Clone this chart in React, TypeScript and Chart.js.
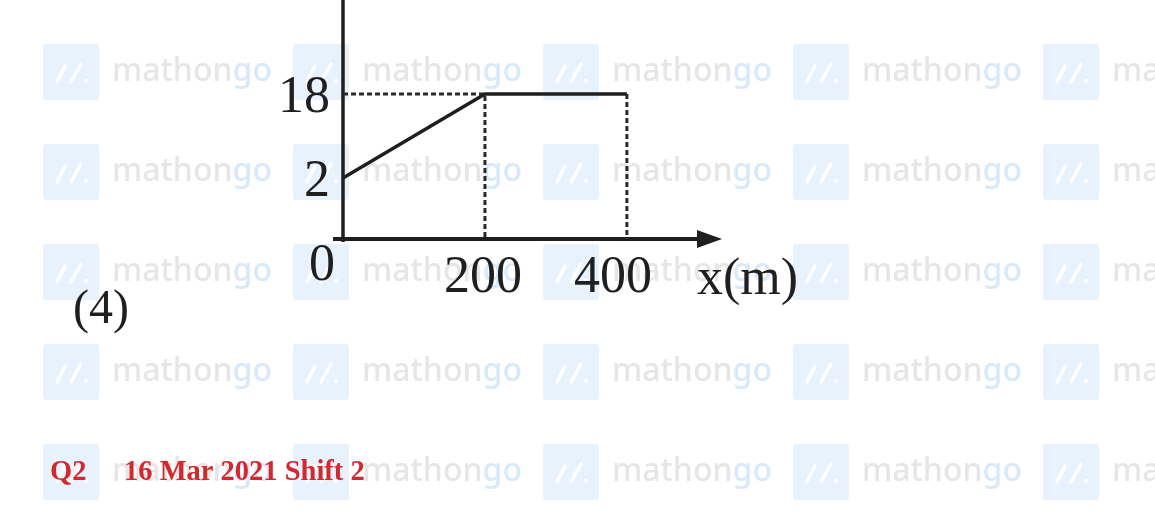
import React, { useEffect, useRef } from "react";
import { Chart, registerables } from "chart.js";

Chart.register(...registerables);

// ---- data ----
const xValues = [0, 200, 400];
const velocity = [2, 18, 18];
const xTickValues = [200, 400];
const xTickLabels = ["200", "400"];
const yTickValues = [2, 18];
const yTickLabels = ["2", "18"];
const originLabel = "0";
const xAxisTitle = "x(m)";
const optionLabel = "(4)";
const questionNo = "Q2";
const examTag = "16 Mar 2021 Shift 2";
const watermarkParts = ["mathon", "go"];

// axis ranges (the sketch is not to scale; a log axis reproduces its spacing)
const X_MIN = 0;
const X_MAX = 534;
const Y_MIN = 0.406;
const Y_MAX = 210.6;

const INK = "#1f1f1f";
const SERIF = '"Liberation Serif", "Times New Roman", serif';

const sketchPlugin = {
  id: "sketch",
  beforeDraw(chart: any) {
    const { ctx, width, height } = chart;
    ctx.save();
    ctx.fillStyle = "#fff";
    ctx.fillRect(0, 0, width, height);
    let size = 32;
    ctx.font = `500 ${size}px "Noto Sans", sans-serif`;
    const w = ctx.measureText(watermarkParts.join("")).width;
    size = (size * 160) / w;
    ctx.font = `500 ${size}px "Noto Sans", sans-serif`;
    const w0 = ctx.measureText(watermarkParts[0]).width;
    for (let col = 0; col < 5; col++) {
      for (let row = 0; row < 5; row++) {
        const sx = 43 + col * 250;
        const sy = 44 + row * 100;
        if (sx > width || sy > height) continue;
        ctx.fillStyle = "#e8f2fd";
        ctx.beginPath();
        if ((ctx as any).roundRect) (ctx as any).roundRect(sx, sy, 56, 56, 3);
        else ctx.rect(sx, sy, 56, 56);
        ctx.fill();
        ctx.strokeStyle = "#ffffff";
        ctx.lineWidth = 3.5;
        ctx.lineCap = "round";
        ctx.beginPath();
        ctx.moveTo(sx + 14, sy + 38);
        ctx.lineTo(sx + 22, sy + 22);
        ctx.moveTo(sx + 28, sy + 38);
        ctx.lineTo(sx + 38, sy + 20);
        ctx.stroke();
        ctx.fillStyle = "#ffffff";
        ctx.beginPath();
        ctx.arc(sx + 43, sy + 37, 2.2, 0, Math.PI * 2);
        ctx.fill();
        ctx.textAlign = "left";
        ctx.textBaseline = "alphabetic";
        ctx.fillStyle = "#e6e6e6";
        ctx.fillText(watermarkParts[0], sx + 69, sy + 37);
        ctx.fillStyle = "#d7e9fb";
        ctx.fillText(watermarkParts[1], sx + 69 + w0, sy + 37);
      }
    }
    ctx.restore();
  },
  beforeDatasetsDraw(chart: any) {
    const { ctx, chartArea } = chart;
    const xs = chart.scales.x;
    const ox = xs.getPixelForValue(X_MIN);
    const oy = chartArea.bottom;
    ctx.save();
    ctx.strokeStyle = INK;
    ctx.fillStyle = INK;
    ctx.lineCap = "butt";
    ctx.lineWidth = 3.5;
    ctx.beginPath();
    ctx.moveTo(ox, chartArea.top);
    ctx.lineTo(ox, oy + 3);
    ctx.stroke();
    const tip = chartArea.right;
    ctx.lineWidth = 4;
    ctx.beginPath();
    ctx.moveTo(ox - 10, oy);
    ctx.lineTo(tip - 20, oy);
    ctx.stroke();
    ctx.beginPath();
    ctx.moveTo(tip, oy);
    ctx.lineTo(tip - 25, oy - 9);
    ctx.lineTo(tip - 25, oy + 9);
    ctx.closePath();
    ctx.fill();
    ctx.restore();
  },
  afterDatasetsDraw(chart: any) {
    const { ctx, chartArea } = chart;
    const xs = chart.scales.x;
    const ys = chart.scales.y;
    const ox = xs.getPixelForValue(X_MIN);
    const oy = chartArea.bottom;
    ctx.save();
    ctx.fillStyle = INK;
    ctx.font = `52px ${SERIF}`;
    ctx.textBaseline = "alphabetic";
    ctx.textAlign = "right";
    yTickValues.forEach((v, i) => {
      ctx.fillText(yTickLabels[i], ox - 13, ys.getPixelForValue(v) + 18);
    });
    ctx.fillText(originLabel, ox - 8, oy + 41);
    ctx.textAlign = "center";
    const nudge: Record<number, number> = { 200: -2, 400: -14 };
    xTickValues.forEach((v, i) => {
      ctx.fillText(xTickLabels[i], xs.getPixelForValue(v) + (nudge[v] || 0), oy + 53);
    });
    ctx.textAlign = "left";
    ctx.fillText(xAxisTitle, chartArea.right - 25, oy + 55);
    ctx.font = `48px ${SERIF}`;
    ctx.fillText(optionLabel, 73, 323);
    ctx.fillStyle = "#d3282d";
    ctx.font = `bold 28.5px ${SERIF}`;
    ctx.fillText(questionNo, 50, 480);
    ctx.fillText(examTag, 124, 480);
    ctx.restore();
  },
};

export default function App() {
  const ref = useRef<HTMLCanvasElement | null>(null);
  useEffect(() => {
    if (!ref.current) return;
    const level = velocity[1];
    const chart = new Chart(ref.current, {
      type: "line",
      data: {
        datasets: [
          {
            data: [
              { x: xValues[0], y: level },
              { x: xValues[1], y: level },
              { x: xValues[1], y: Y_MIN },
            ],
            borderColor: "#2a2a2a",
            borderWidth: 3,
            borderDash: [5, 3],
            pointRadius: 0,
            fill: false,
            order: 2,
          },
          {
            data: [
              { x: xValues[2], y: level },
              { x: xValues[2], y: Y_MIN },
            ],
            borderColor: "#2a2a2a",
            borderWidth: 3,
            borderDash: [5, 3],
            pointRadius: 0,
            fill: false,
            order: 2,
          },
          {
            data: xValues.map((x, i) => ({ x, y: velocity[i] })),
            borderColor: INK,
            borderWidth: 3.5,
            pointRadius: 0,
            fill: false,
            tension: 0,
            order: 1,
          },
        ],
      },
      options: {
        responsive: false,
        animation: false,
        devicePixelRatio: 1,
        layout: { padding: { left: 343, right: 433, top: 0, bottom: 281 } },
        plugins: { legend: { display: false }, tooltip: { enabled: false } },
        scales: {
          x: { type: "linear", min: X_MIN, max: X_MAX, display: false },
          y: { type: "logarithmic", min: Y_MIN, max: Y_MAX, display: false },
        },
      },
      plugins: [sketchPlugin],
    });
    return () => chart.destroy();
  }, []);
  return (
    <div style={{ position: "fixed", left: 0, top: 0, width: 1155, height: 520, background: "#fff" }}>
      <canvas ref={ref} width={1155} height={520} style={{ display: "block" }} />
    </div>
  );
}
